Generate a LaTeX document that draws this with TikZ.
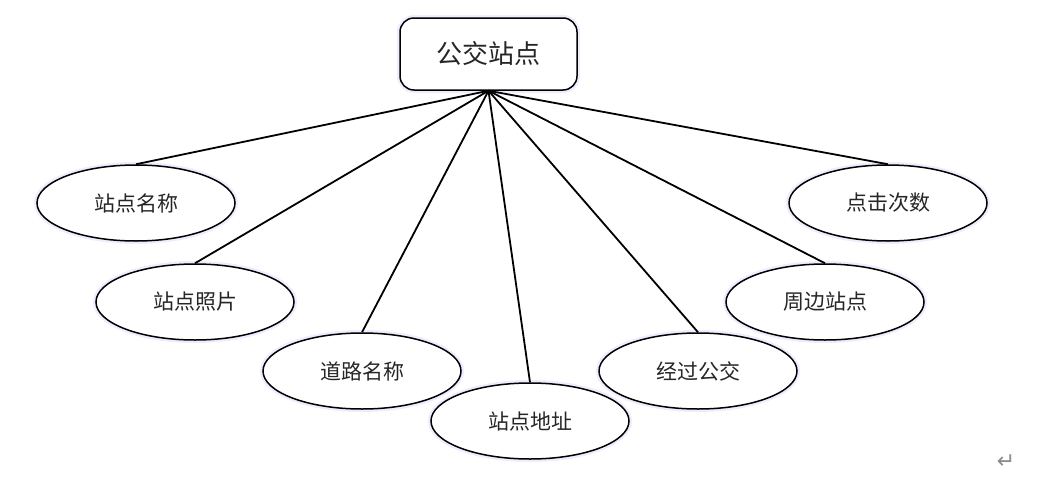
\documentclass[tikz,border=0pt]{standalone}
\usepackage{fontspec}
\newfontfamily\cjk{Noto Sans CJK SC}
\newfontfamily\sym{DejaVu Sans}
\usetikzlibrary{shapes.geometric}
\tikzset{
  glow/.style={preaction={draw=blue!7, line width=6pt}},
  attr/.style={ellipse, draw=black, line width=1.5pt, minimum width=198pt, minimum height=76pt, inner sep=0pt, fill=white, glow, font=\cjk\fontsize{21}{24}\selectfont, text=black!85},
  ent/.style={rectangle, rounded corners=14pt, draw=black, line width=1.5pt, minimum width=177pt, minimum height=72pt, inner sep=0pt, fill=white, glow, font=\cjk\fontsize{26}{30}\selectfont, text=black!85},
  link/.style={line width=1.8pt, black}
}
\begin{document}
\begin{tikzpicture}[x=1pt,y=-1pt]
\useasboundingbox (0,0) rectangle (1041,482);
\node[ent] (root) at (488.5,54) {公交站点};
\node[attr] (a1) at (136,203) {站点名称};
\node[attr] (a2) at (195,302) {站点照片};
\node[attr] (a3) at (362,371) {道路名称};
\node[attr] (a4) at (530,421) {站点地址};
\node[attr] (a5) at (698,371) {经过公交};
\node[attr] (a6) at (825,302) {周边站点};
\node[attr] (a7) at (888,203) {点击次数};
\foreach \n in {a1,a2,a3,a4,a5,a6,a7}{\draw[link] (root.south) -- (\n.north);}
\node[font=\sym\fontsize{22}{24}\selectfont, text=black!45] (ret) at (1006,462) {↵};
\end{tikzpicture}
\end{document}
